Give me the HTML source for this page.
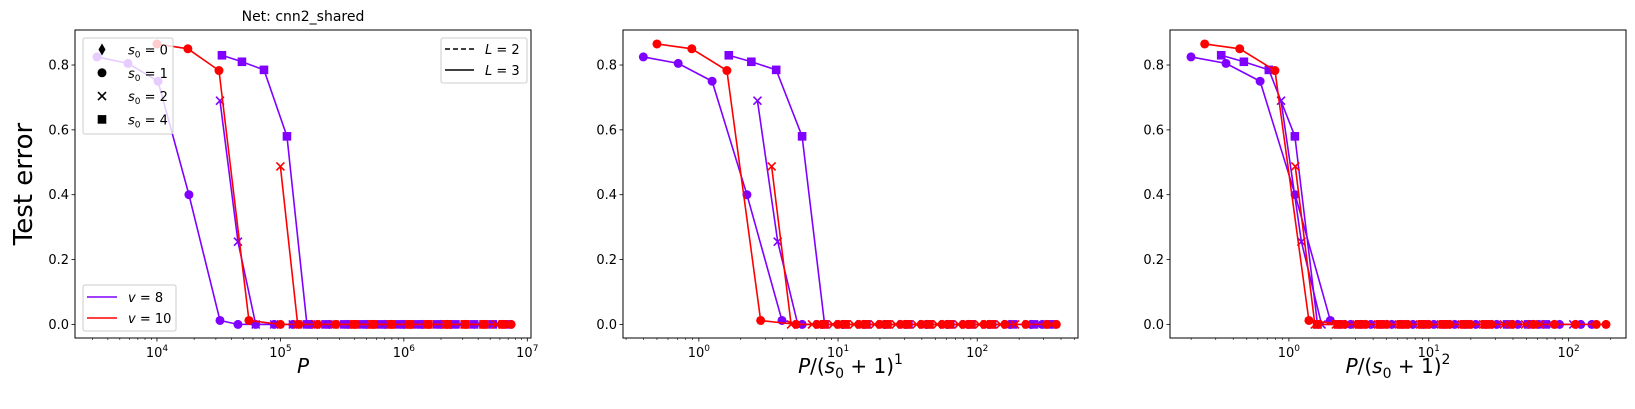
<!DOCTYPE html>
<html><head><meta charset="utf-8"><style>
html,body{margin:0;padding:0;background:#fff;}
svg{display:block;font-family:"DejaVu Sans","Liberation Sans",sans-serif;}
</style></head><body>
<svg id="fig" width="1635" height="409" viewBox="0 0 1635 409" xmlns="http://www.w3.org/2000/svg"></svg>
<script>
// ---- data (P = training set size, y = test error) ----
const vValues = [8, 10];
const s0Values = [1, 2, 4];
const pC8 = [3270,5820,10200,18150,32400,45300,63100,89000,126000,178000,251000,355000,501000,708000,1000000,1410000,2000000,2400000];
const yC8 = [0.825,0.805,0.75,0.40,0.012,0,0,0,0,0,0,0,0,0,0,0,0,0];
const pC10 = [10000,17800,31800,55600,100000,141000,200000,282000,398000,562000,794000,1120000,1580000,2240000,3160000,4470000,6310000,7400000];
const yC10 = [0.865,0.85,0.783,0.012,0,0,0,0,0,0,0,0,0,0,0,0,0,0];
const pX8 = [32400,45300,63100,89000,126000,178000,251000,355000,501000,708000,1000000,1410000,2000000,2820000,3980000];
const yX8 = [0.69,0.255,0,0,0,0,0,0,0,0,0,0,0,0,0];
const pX10 = [100000,138000,195000,275000,390000,550000,780000,1100000,1550000,2200000,3100000,4400000,5600000];
const yX10 = [0.487,0,0,0,0,0,0,0,0,0,0,0,0];
const pS8 = [33600,48800,73600,113000,164000,232000,328000,464000,656000,928000,1310000,1860000,2620000,3710000,5250000,7000000];
const yS8 = [0.83,0.81,0.785,0.58,0,0,0,0,0,0,0,0,0,0,0,0];
const pS10 = [398000,562000,794000,1120000,1580000,2240000,3160000,4470000,6310000];
const yS10 = [0,0,0,0,0,0,0,0,0];
const yTicks = [0.0,0.2,0.4,0.6,0.8];
const yTickLabels = ["0.0","0.2","0.4","0.6","0.8"];

const series = [
  {name:'v8-s1', v:8, s0:1, m:'circle', p:pC8, y:yC8},
  {name:'v8-s2', v:8, s0:2, m:'x', p:pX8, y:yX8},
  {name:'v8-s4', v:8, s0:4, m:'square', p:pS8, y:yS8},
  {name:'v10-s4', v:10, s0:4, m:'square', p:pS10, y:yS10},
  {name:'v10-s2', v:10, s0:2, m:'x', p:pX10, y:yX10},
  {name:'v10-s1', v:10, s0:1, m:'circle', p:pC10, y:yC10},
];
const colors = {8:'#8000ff', 10:'#ff0000'};

const panels = [
  {name:'panel-p', left:75, right:531, xmin:3.336, xmax:7.03, power:null, majors:[4,5,6,7], xlabel:'P'},
  {name:'panel-p-over-s1', left:623, right:1078, xmin:-0.545, xmax:2.724, power:1, majors:[0,1,2], xlabel:'1'},
  {name:'panel-p-over-s2', left:1170, right:1626, xmin:-0.85, xmax:2.41, power:2, majors:[0,1,2], xlabel:'2'},
];
const TOP=30, BOTTOM=338, YMIN=-0.042, YMAX=0.908;
const NS='http://www.w3.org/2000/svg';
const svg=document.getElementById('fig');
function mk(tag, attrs, parent){const e=document.createElementNS(NS,tag);for(const k in attrs)e.setAttribute(k,attrs[k]);(parent||svg).appendChild(e);return e;}
function yS(v){return BOTTOM-(v-YMIN)/(YMAX-YMIN)*(BOTTOM-TOP);}

function marker(g, type, cx, cy, col, size){
  const s=size||1; let e;
  if(type==='circle'){e=mk('circle',{cx:cx,cy:cy,r:4.5*s,fill:col},g);}
  else if(type==='square'){e=mk('rect',{x:cx-4.3*s,y:cy-4.3*s,width:8.6*s,height:8.6*s,fill:col},g);}
  else if(type==='x'){e=mk('path',{d:`M${cx-4*s},${cy-4*s}L${cx+4*s},${cy+4*s}M${cx-4*s},${cy+4*s}L${cx+4*s},${cy-4*s}`,stroke:col,'stroke-width':1.6,fill:'none'},g);}
  else {e=mk('path',{d:`M${cx},${cy-6*s}L${cx+3.5*s},${cy}L${cx},${cy+6*s}L${cx-3.5*s},${cy}Z`,fill:col},g);}
  
  
  return e;
}

panels.forEach((pn,pi)=>{
  const g=mk('g',{});
  
  
  const xS=v=>pn.left+(Math.log10(v)-pn.xmin)/(pn.xmax-pn.xmin)*(pn.right-pn.left);
  const clip=mk('clipPath',{id:'clip'+pi},g);
  mk('rect',{x:pn.left,y:TOP,width:pn.right-pn.left,height:BOTTOM-TOP},clip);
  const plot=mk('g',{'clip-path':`url(#clip${pi})`},g);
  
  
  series.forEach(s=>{
    const col=colors[s.v];
    const xs=s.p.map(P=> pn.power===null? P : P/(Math.pow(s.s0+1,pn.power)*Math.pow(s.v,4)));
    const pts=xs.map((x,i)=>xS(x).toFixed(2)+','+yS(s.y[i]).toFixed(2)).join(' ');
    const sg=mk('g',{},plot);
    
    
    const line=mk('polyline',{points:pts,fill:'none',stroke:col,'stroke-width':1.6},sg);
    
    
    xs.forEach((x,i)=>marker(sg,s.m,xS(x),yS(s.y[i]),col));
  });
  const fr=mk('rect',{x:pn.left,y:TOP,width:pn.right-pn.left,height:BOTTOM-TOP,fill:'none',stroke:'#000','stroke-width':1},g);
  
  
  for(let d=Math.floor(pn.xmin); d<=Math.ceil(pn.xmax); d++){
    for(let k=1;k<10;k++){
      const lv=d+Math.log10(k);
      if(lv<pn.xmin||lv>pn.xmax) continue;
      const x=pn.left+(lv-pn.xmin)/(pn.xmax-pn.xmin)*(pn.right-pn.left);
      const len=k===1?3.5:2;
      const t=mk('line',{x1:x,y1:BOTTOM,x2:x,y2:BOTTOM+len,stroke:'#000','stroke-width':k===1?0.8:0.6},g);
      
      
      if(k===1){
        const tx=mk('text',{x:x,y:BOTTOM+19,'font-size':13,'text-anchor':'middle',fill:'#000'},g);
        
        
        tx.textContent='10';
        const sup=mk('tspan',{dy:-6,'font-size':9},tx); sup.textContent=String(d);
      }
    }
  }
  yTicks.forEach((v,i)=>{
    const y=yS(v);
    const t=mk('line',{x1:pn.left-3.5,y1:y,x2:pn.left,y2:y,stroke:'#000','stroke-width':0.8},g);
    
    
    const tx=mk('text',{x:pn.left-6,y:y+4.5,'font-size':13,'text-anchor':'end',fill:'#000'},g);
    
    
    tx.textContent=yTickLabels[i];
  });
  const cx=(pn.left+pn.right)/2;
  const xl=mk('text',{x:cx,y:373,'font-size':20,'text-anchor':'middle',fill:'#000'},g);
  
  
  if(pn.power===null){ const a=mk('tspan',{'font-style':'italic'},xl); a.textContent='P'; }
  else {
    const a=mk('tspan',{'font-style':'italic'},xl); a.textContent='P';
    const b=mk('tspan',{},xl); b.textContent='/(';
    const c=mk('tspan',{'font-style':'italic'},xl); c.textContent='s';
    const d0=mk('tspan',{'font-size':14,dy:5},xl); d0.textContent='0';
    const e=mk('tspan',{dy:-5},xl); e.textContent=' + 1)';
    const f=mk('tspan',{'font-size':14,dy:-9},xl); f.textContent=pn.xlabel;
  }
});

let t=mk('text',{x:303,y:21,'font-size':14,'text-anchor':'middle',fill:'#000'});
 
t.textContent='Net: cnn2_shared';
t=mk('text',{x:0,y:0,'font-size':26,'text-anchor':'middle',fill:'#000',transform:'translate(32,184) rotate(-90)'});
 
t.textContent='Test error';

function legendBox(x,y,w,h,name){
  const g=mk('g',{});
  
  
  mk('rect',{x:x,y:y,width:w,height:h,rx:2,fill:'#fff','fill-opacity':0.8,stroke:'#ccc','stroke-width':1},g);
  return g;
}
function mathLabel(g,x,y,varName,sub,val){
  const tx=mk('text',{x:x,y:y,'font-size':13,fill:'#000'},g);
  
  
  const a=mk('tspan',{'font-style':'italic'},tx); a.textContent=varName;
  if(sub){const b=mk('tspan',{'font-size':9,dy:3},tx); b.textContent=sub; const c=mk('tspan',{dy:-3},tx); c.textContent=' = '+val;}
  else {const c=mk('tspan',{},tx); c.textContent=' = '+val;}
}
let lg=legendBox(83,38,90,96,'legend-s0');
const mTypes=['diamond','circle','x','square'], mVals=['0','1','2','4'];
mTypes.forEach((m,i)=>{const y=49.5+i*23.3; marker(lg,m,102,y,'#000'); mathLabel(lg,128,y+5,'s','0',mVals[i]);});
lg=legendBox(83,285,93,46,'legend-v');
vValues.forEach((v,i)=>{const y=297+i*21; const l=mk('line',{x1:87,y1:y,x2:117,y2:y,stroke:colors[v],'stroke-width':1.6},lg);
   
  mathLabel(lg,128,y+5,'v',null,String(v));});
lg=legendBox(441,38,86,45,'legend-L');
[['2','5,3'],['3',null]].forEach((e,i)=>{const y=49+i*21; const at={x1:445,y1:y,x2:474,y2:y,stroke:'#000','stroke-width':1.6}; if(e[1])at['stroke-dasharray']=e[1];
  const l=mk('line',at,lg);  
  mathLabel(lg,485,y+5,'L',null,e[0]);});
</script>
</body></html>
